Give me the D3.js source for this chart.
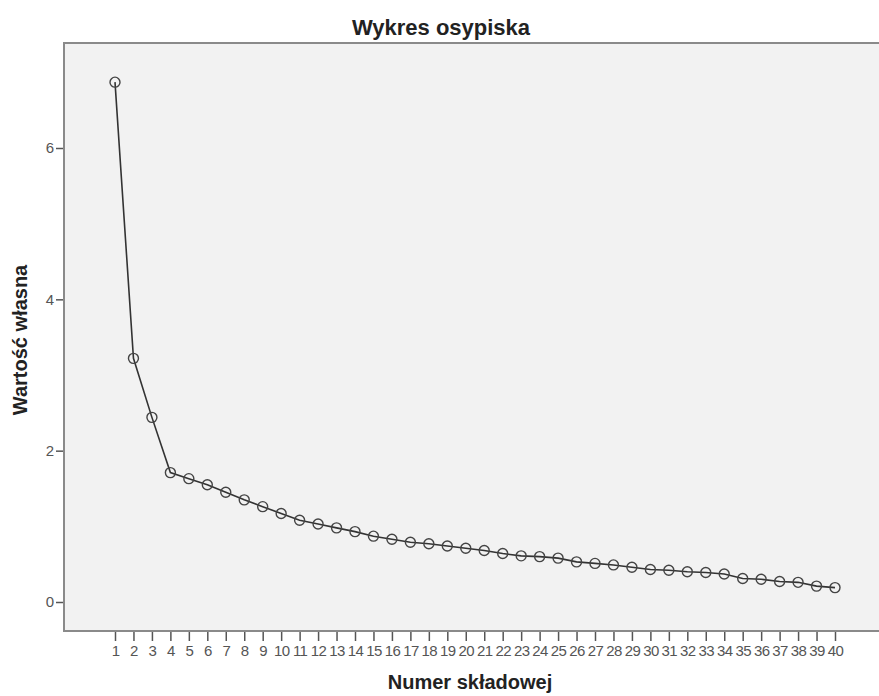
<html>
<head>
<meta charset="utf-8">
<script src="https://d3js.org/d3.v7.min.js"></script>
<style>
  body { margin: 0; background: #fff; }
  text { font-family: "Liberation Sans", Arial, sans-serif; }
</style>
</head>
<body>
<svg id="chart"></svg>
<script>
// numery składowych i wartości własne
var components = d3.range(1, 41)
var eigenvalues = [6.87, 3.22, 2.44, 1.71, 1.63, 1.55, 1.45, 1.35, 1.26, 1.17,
                   1.08, 1.03, 0.98, 0.93, 0.87, 0.83, 0.79, 0.77, 0.74, 0.71,
                   0.68, 0.64, 0.61, 0.60, 0.58, 0.53, 0.51, 0.49, 0.46, 0.43,
                   0.42, 0.40, 0.39, 0.37, 0.31, 0.30, 0.27, 0.26, 0.21, 0.19]
var yTicks = [0, 2, 4, 6]

var width = 879, height = 696
var frame = {left: 64, top: 43, right: 884, bottom: 631}

var svg = d3.select("#chart")
    .attr("width", width)
    .attr("height", height)

// skale: 1 -> 115px, 40 -> 835px ; 0 -> 602px, 6 -> 148px
var x = d3.scaleLinear().domain([1, 40]).range([115, 835])
var y = d3.scaleLinear().domain([0, 6]).range([602, 148])

svg.append("rect")
    .attr("x", frame.left)
    .attr("y", frame.top)
    .attr("width", frame.right - frame.left)
    .attr("height", frame.bottom - frame.top)
    .attr("fill", "#f2f2f2")
    .attr("stroke", "#8a8a8a")
    .attr("stroke-width", 2)

// oś Y
var yAxis = svg.append("g")
    .attr("transform", `translate(${frame.left - 1},0)`)
    .call(d3.axisLeft(y).tickValues(yTicks).tickFormat(d3.format("d")).tickSize(7).tickPadding(2))
yAxis.select(".domain").remove()
yAxis.selectAll("line").attr("stroke", "#555").attr("stroke-width", 1.5)
yAxis.selectAll("text")
    .attr("fill", "#555")
    .attr("font-size", 15)
    .style("font-family", "'Liberation Sans', Arial, sans-serif")

// oś X
var xAxis = svg.append("g")
    .attr("transform", `translate(0,${frame.bottom + 1})`)
    .call(d3.axisBottom(x).tickValues(components).tickFormat(d3.format("d")).tickSize(9).tickPadding(4))
xAxis.select(".domain").remove()
xAxis.selectAll("line").attr("stroke", "#555").attr("stroke-width", 1.5)
xAxis.selectAll("text")
    .attr("fill", "#555")
    .attr("font-size", 15)
    .attr("letter-spacing", -0.6)
    .style("font-family", "'Liberation Sans', Arial, sans-serif")

var line = d3.line()
    .x((d, i) => x(components[i]))
    .y(d => y(d))

svg.append("path")
    .datum(eigenvalues)
    .attr("d", line)
    .attr("fill", "none")
    .attr("stroke", "#333")
    .attr("stroke-width", 1.6)

svg.selectAll(".pt")
    .data(eigenvalues)
    .join("circle")
    .attr("class", "pt")
    .attr("cx", (d, i) => x(components[i]))
    .attr("cy", d => y(d))
    .attr("r", 5)
    .attr("fill", "none")
    .attr("stroke", "#444")
    .attr("stroke-width", 1.4)

// tytuły
svg.append("text")
    .attr("x", 441)
    .attr("y", 35)
    .attr("text-anchor", "middle")
    .attr("font-size", 22)
    .attr("font-weight", "bold")
    .attr("fill", "#222")
    .text("Wykres osypiska")

svg.append("text")
    .attr("transform", "translate(27,340) rotate(-90)")
    .attr("text-anchor", "middle")
    .attr("font-size", 20)
    .attr("font-weight", "bold")
    .attr("fill", "#222")
    .text("Wartość własna")

svg.append("text")
    .attr("x", 470)
    .attr("y", 689)
    .attr("text-anchor", "middle")
    .attr("font-size", 20)
    .attr("font-weight", "bold")
    .attr("fill", "#222")
    .text("Numer składowej")
</script>
</body>
</html>
